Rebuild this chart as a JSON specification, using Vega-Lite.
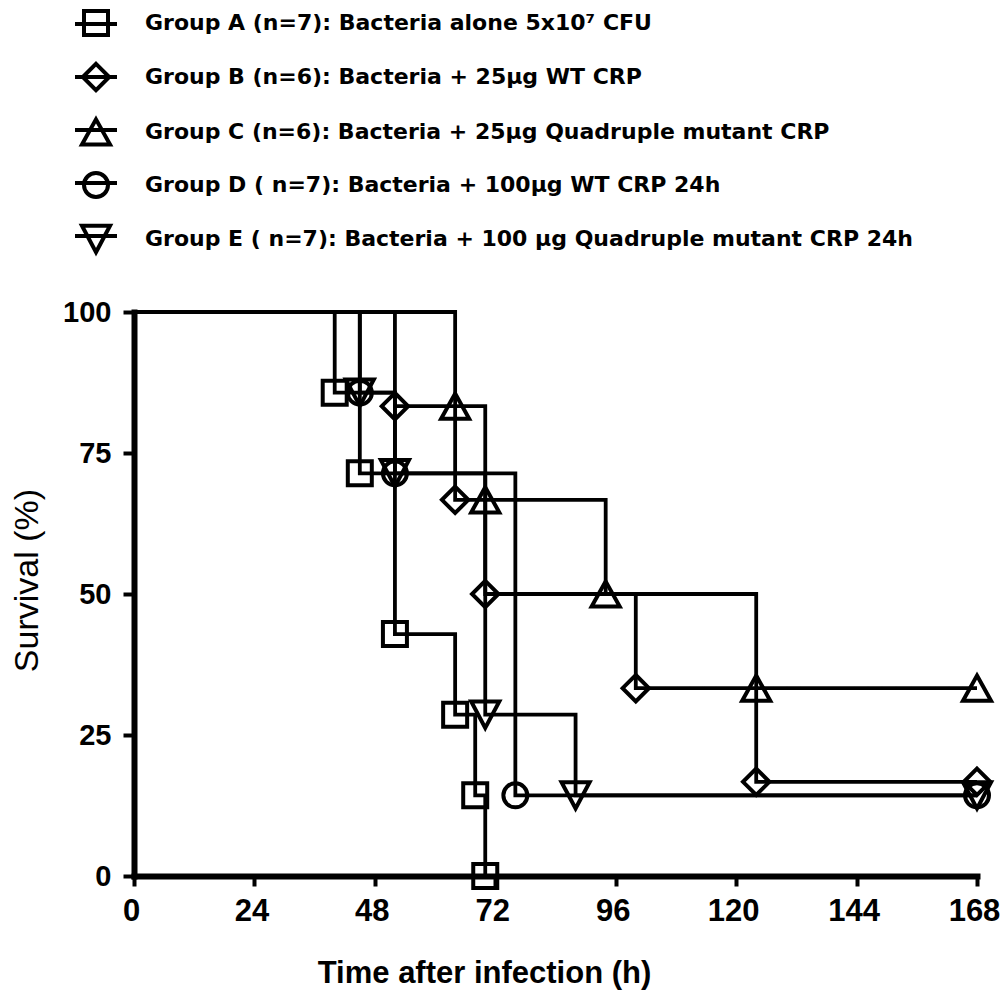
{
  "$schema": "https://vega.github.io/schema/vega-lite/v6.json",
  "autosize": {"type": "none"},
  "width": 843,
  "height": 564,
  "padding": {"left": 134, "top": 312, "right": 25, "bottom": 118},
  "background": "white",
  "config": {
    "view": {"stroke": null},
    "axis": {
      "grid": false,
      "domainColor": "black",
      "tickColor": "black",
      "labelColor": "black",
      "titleColor": "black",
      "domainWidth": 6,
      "domainCap": "square",
      "tickWidth": 4,
      "labelFlush": false,
      "labelFont": "Liberation Sans",
      "titleFont": "Liberation Sans",
      "labelFontWeight": "bold"
    }
  },
  "data": {
    "values": [
      {"group": "A", "time": 0, "survival": 100, "sym": 0},
      {"group": "A", "time": 40, "survival": 85.7, "sym": 1},
      {"group": "A", "time": 45, "survival": 71.4, "sym": 1},
      {"group": "A", "time": 52, "survival": 42.9, "sym": 1},
      {"group": "A", "time": 64, "survival": 28.6, "sym": 1},
      {"group": "A", "time": 68, "survival": 14.3, "sym": 1},
      {"group": "A", "time": 70, "survival": 0, "sym": 1},
      {"group": "B", "time": 0, "survival": 100, "sym": 0},
      {"group": "B", "time": 52, "survival": 83.3, "sym": 1},
      {"group": "B", "time": 64, "survival": 66.7, "sym": 1},
      {"group": "B", "time": 70, "survival": 50, "sym": 1},
      {"group": "B", "time": 100, "survival": 33.3, "sym": 1},
      {"group": "B", "time": 124, "survival": 16.7, "sym": 1},
      {"group": "B", "time": 168, "survival": 16.7, "sym": 1},
      {"group": "C", "time": 0, "survival": 100, "sym": 0},
      {"group": "C", "time": 64, "survival": 83.3, "sym": 1},
      {"group": "C", "time": 70, "survival": 66.7, "sym": 1},
      {"group": "C", "time": 94, "survival": 50, "sym": 1},
      {"group": "C", "time": 124, "survival": 33.3, "sym": 1},
      {"group": "C", "time": 168, "survival": 33.3, "sym": 1},
      {"group": "D", "time": 0, "survival": 100, "sym": 0},
      {"group": "D", "time": 45, "survival": 85.7, "sym": 1},
      {"group": "D", "time": 52, "survival": 71.4, "sym": 1},
      {"group": "D", "time": 76, "survival": 14.3, "sym": 1},
      {"group": "D", "time": 168, "survival": 14.3, "sym": 1},
      {"group": "E", "time": 0, "survival": 100, "sym": 0},
      {"group": "E", "time": 45, "survival": 85.7, "sym": 1},
      {"group": "E", "time": 52, "survival": 71.4, "sym": 1},
      {"group": "E", "time": 70, "survival": 28.6, "sym": 1},
      {"group": "E", "time": 88, "survival": 14.3, "sym": 1},
      {"group": "E", "time": 168, "survival": 14.3, "sym": 1}
    ]
  },
  "encoding": {
    "x": {
      "field": "time",
      "type": "quantitative",
      "scale": {"domain": [0, 168], "nice": false, "zero": false},
      "axis": {
        "values": [0, 24, 48, 72, 96, 120, 144, 168],
        "title": "Time after infection (h)",
        "tickSize": 10,
        "labelPadding": 10,
        "labelFontSize": 31,
        "labelOffset": -3,
        "titleFontSize": 31,
        "titleFontWeight": "bold",
        "titlePadding": 32,
        "titleX": 350
      }
    },
    "y": {
      "field": "survival",
      "type": "quantitative",
      "scale": {"domain": [0, 100], "nice": false},
      "axis": {
        "values": [0, 25, 50, 75, 100],
        "title": "Survival (%)",
        "tickSize": 11,
        "labelPadding": 12,
        "labelFontSize": 29,
        "titleFontSize": 34,
        "titleFontWeight": "normal",
        "titlePadding": 18,
        "titleY": 268
      }
    }
  },
  "layer": [
    {
      "mark": {"type": "line", "interpolate": "step-after", "color": "black", "strokeWidth": 3.8},
      "encoding": {
        "strokeDash": {
          "field": "group",
          "type": "nominal",
          "scale": {"domain": ["A", "B", "C", "D", "E"], "range": [[1, 0], [1, 0], [1, 0], [1, 0], [1, 0]]},
          "legend": {
            "orient": "none",
            "legendX": -61,
            "legendY": -311,
            "title": null,
            "padding": 0,
            "symbolType": "stroke",
            "symbolSize": 1764,
            "symbolStrokeWidth": 4,
            "symbolStrokeColor": "black",
            "labelExpr": "''",
            "labelFontSize": 22,
            "rowPadding": 19
          }
        }
      }
    },
    {
      "transform": [{"filter": "datum.sym == 1"}],
      "mark": {"type": "point", "filled": false, "color": "black", "strokeWidth": 4, "opacity": 1, "size": 576},
      "encoding": {
        "shape": {
          "field": "group",
          "type": "nominal",
          "scale": {
            "range": [
              "M-1,-1H1V1H-1Z",
              "M0,-1.1L1.1,0L0,1.1L-1.1,0Z",
              "M0,-1.05L1.17,1.05L-1.17,1.05Z",
              "circle",
              "M0,1.1L1.17,-1.1L-1.17,-1.1Z"
            ]
          },
          "legend": {
            "orient": "none",
            "legendX": -52,
            "legendY": -303,
            "title": null,
            "padding": 0,
            "symbolSize": 576,
            "symbolStrokeWidth": 4,
            "symbolStrokeColor": "black",
            "labelFont": "DejaVu Sans",
            "labelFontWeight": "bold",
            "labelFontSize": 22,
            "labelColor": "black",
            "labelLimit": 1000,
            "labelOffset": 35,
            "rowPadding": 12,
            "labelExpr": "datum.value === 'A' ? 'Group A (n=7): Bacteria alone 5x10⁷ CFU' : datum.value === 'B' ? 'Group B (n=6): Bacteria + 25µg  WT CRP' : datum.value === 'C' ? 'Group C (n=6): Bacteria + 25µg  Quadruple mutant CRP' : datum.value === 'D' ? 'Group D ( n=7): Bacteria +  100µg  WT CRP 24h' : 'Group E ( n=7): Bacteria + 100 µg  Quadruple mutant CRP 24h'"
          }
        }
      }
    }
  ]
}
